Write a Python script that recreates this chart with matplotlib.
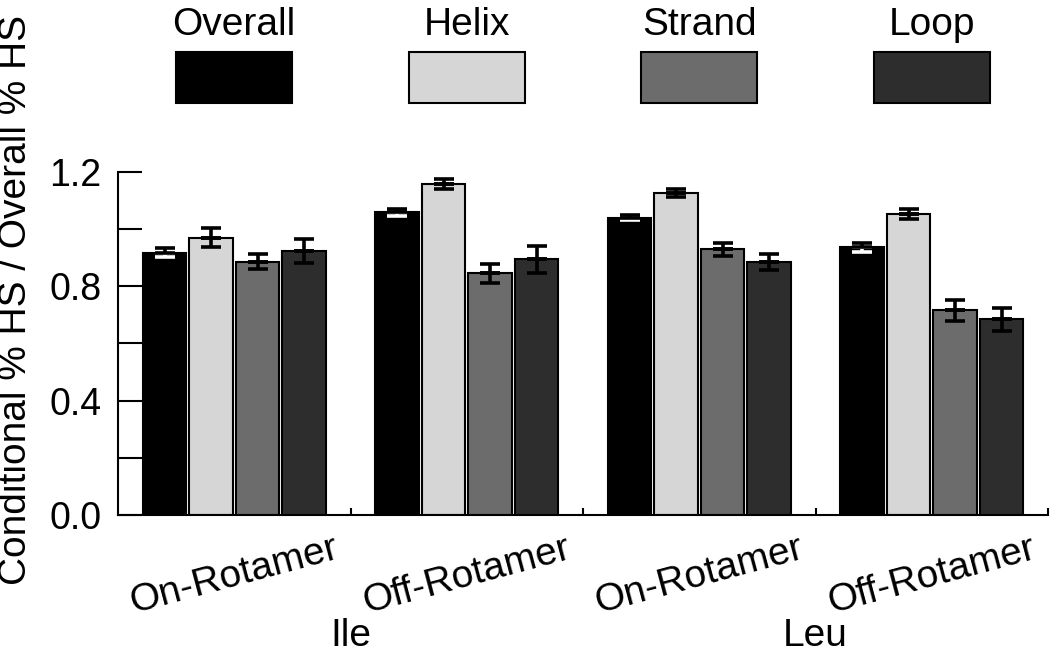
import numpy as np
import matplotlib.pyplot as plt
from matplotlib.ticker import MultipleLocator, FixedLocator, FormatStrFormatter
from matplotlib.transforms import blended_transform_factory

plt.rcParams['font.family'] = ['Liberation Sans', 'DejaVu Sans']

# data
groups = ['On-Rotamer', 'Off-Rotamer', 'On-Rotamer', 'Off-Rotamer']
residues = ['Ile', 'Leu']
series = ['Overall', 'Helix', 'Strand', 'Loop']
overall = [0.917, 1.059, 1.040, 0.936]
helix = [0.970, 1.157, 1.127, 1.052]
strand = [0.886, 0.845, 0.930, 0.716]
loop = [0.924, 0.894, 0.886, 0.684]
overall_err = [0.016, 0.012, 0.009, 0.017]
helix_err = [0.033, 0.018, 0.014, 0.017]
strand_err = [0.027, 0.034, 0.023, 0.036]
loop_err = [0.043, 0.048, 0.028, 0.040]
colors = ['#000000', '#d6d6d6', '#6c6c6c', '#2d2d2d']

values = [overall, helix, strand, loop]
errors = [overall_err, helix_err, strand_err, loop_err]

fig = plt.figure(figsize=(10.5, 6.53), dpi=100)
ax = fig.add_axes([118 / 1050, 1 - 515 / 653, 930 / 1050, 343 / 653])

x = np.arange(len(groups)) + 0.5
offsets = [-0.3, -0.1, 0.1, 0.3]
zeros = np.zeros(len(groups))

for vals, errs, off, c in zip(values, errors, offsets, colors):
    ax.bar(x + off, vals, width=0.185, color=c, edgecolor='black', linewidth=1.5, zorder=2)
    # lower half of the error bar is white on the black bars
    inner = 'white' if c == '#000000' else 'black'
    ax.errorbar(x + off, vals, yerr=[errs, zeros], fmt='none', ecolor=inner,
                elinewidth=2.6, capsize=7, capthick=2.6, zorder=3)
    ax.errorbar(x + off, vals, yerr=[zeros, errs], fmt='none', ecolor='black',
                elinewidth=2.6, capsize=7, capthick=2.6, zorder=4)

ax.set_xlim(0, 4)
ax.set_ylim(0, 1.2)
for s in ['top', 'right']:
    ax.spines[s].set_visible(False)
for s in ['left', 'bottom']:
    ax.spines[s].set_linewidth(1.5)

ax.yaxis.set_major_locator(MultipleLocator(0.4))
ax.yaxis.set_minor_locator(MultipleLocator(0.2))
ax.yaxis.set_major_formatter(FormatStrFormatter('%.1f'))
ax.tick_params(axis='y', which='both', direction='in', length=17, width=1.5,
               labelsize=27, pad=12)

ax.set_xticks(x)
ax.set_xticklabels(groups, rotation=15, ha='center', va='top')
ax.xaxis.set_minor_locator(FixedLocator([1, 2, 3, 4]))
ax.tick_params(axis='x', which='major', length=0, labelsize=28, pad=11)
ax.tick_params(axis='x', which='minor', direction='in', length=5, width=1.5)

# residue labels under each pair of groups
trans = blended_transform_factory(ax.transData, fig.transFigure)
for i, r in enumerate(residues):
    ax.text(2 * i + 1, 7 / 653, r, transform=trans, ha='center', va='baseline', fontsize=28)

fig.text(16 / 1050, 1 - 300 / 653, 'Conditional % HS / Overall % HS', rotation=90,
         ha='center', va='center', fontsize=28)

# legend: boxes with names above
lax = fig.add_axes([118 / 1050, 1 - 103 / 653, 930 / 1050, 51 / 653])
lax.set_xlim(0, 4)
lax.set_ylim(0, 1)
lax.axis('off')
lax.bar(x, 1, width=0.5, color=colors, edgecolor='black', linewidth=1.5, clip_on=False)
for xi, name in zip(x, series):
    lax.text(xi, 1.33, name, ha='center', va='baseline', fontsize=28)

fig.savefig('out.png', dpi=100)
